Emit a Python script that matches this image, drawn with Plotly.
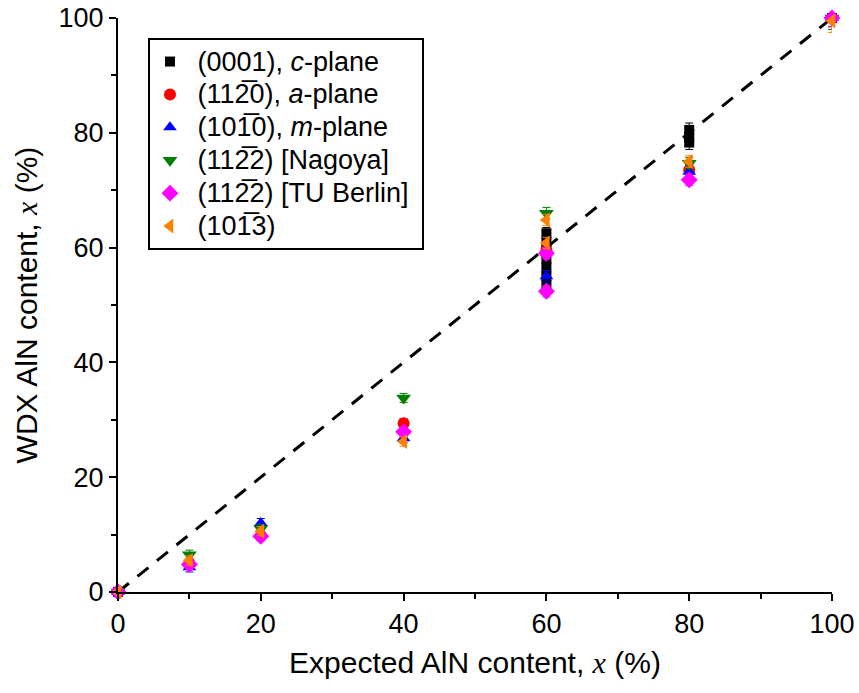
import plotly.graph_objects as go

# ---- data ----
c_x = [0, 60, 60, 60, 60, 60, 60, 60, 80, 80, 80, 100]
c_y = [0, 62.5, 61, 59.5, 58, 56.5, 55, 53.5, 80.5, 79.2, 78.3, 100]
c_e = [0.8, 1, 1, 1, 1, 1, 1, 1, 1.2, 1.2, 1.2, 1.5]

a_x = [0, 10, 20, 40, 60, 80, 100]
a_y = [0, 5.0, 9.8, 29.4, 59.5, 73.5, 100]
a_e = [0.8, 0.8, 0.8, 0.8, 1, 1, 1.5]

m_x = [0, 10, 20, 40, 60, 60, 80, 100]
m_y = [0, 4.3, 12.0, 26.8, 59.6, 55.0, 73.2, 100]
m_e = [0.8, 0.8, 0.8, 0.8, 1, 1, 1, 1.5]

n_x = [0, 10, 20, 40, 60, 80, 100]
n_y = [0, 6.5, 11.0, 33.8, 66.0, 74.7, 100]
n_e = [0.8, 0.8, 0.8, 0.8, 1, 1, 2]

t_x = [0, 10, 20, 40, 60, 60, 80, 100]
t_y = [0, 4.8, 9.7, 27.9, 59.0, 52.4, 71.8, 100]
t_e = [0.8, 0.8, 0.8, 0.8, 1, 1, 1, 1.5]

o_x = [0, 10, 20, 40, 60, 60, 80, 100]
o_y = [0, 5.5, 10.6, 26.2, 64.8, 60.8, 75.0, 99.5]
o_e = [0.8, 0.8, 0.8, 0.8, 1, 1, 1, 2]

extra_x = [0]
extra_y = [0]

line_x = [0, 100]
line_y = [0, 100]

OB = "\u0305"
names = [
    "(0001), <i>c</i>-plane",
    "(112" + OB + "0), <i>a</i>-plane",
    "(101" + OB + "0), <i>m</i>-plane",
    "(112" + OB + "2) [Nagoya]",
    "(112" + OB + "2) [TU Berlin]",
    "(101" + OB + "3)",
]

series = [
    (c_x, c_y, c_e, "black", "square", 10),
    (a_x, a_y, a_e, "#ff0000", "circle", 12),
    (m_x, m_y, m_e, "#0000ff", "triangle-up", 12),
    (n_x, n_y, n_e, "#007f00", "triangle-down", 13),
    (t_x, t_y, t_e, "#ff00ff", "diamond", 13),
    (o_x, o_y, o_e, "#ff7f00", "triangle-left", 13),
]

fig = go.Figure()

fig.add_trace(go.Scatter(
    x=line_x, y=line_y, mode="lines",
    line=dict(color="black", width=3, dash="14px,11px"),
    showlegend=False, hoverinfo="skip"))

fig.add_trace(go.Scatter(
    x=extra_x, y=extra_y, mode="markers",
    marker=dict(color="#33cccc", symbol="circle", size=13),
    showlegend=False, cliponaxis=False))

for i, ((xs, ys, es, col, sym, sz), nm) in enumerate(zip(series, names)):
    fig.add_trace(go.Scatter(
        x=xs, y=ys, mode="markers",
        name="<span style='font-size:27px'>\u00a0" + nm + "\u00a0</span>",
        legendgroup=f"g{i}",
        marker=dict(color=col, symbol=sym, size=sz, line=dict(width=0)),
        error_y=dict(type="data", array=es, color=col, thickness=1, width=4),
        cliponaxis=False))

serif_x = "<span style='font-family:\"Liberation Serif\"'><i>x</i></span>"

axis_common = dict(
    range=[0, 100], showline=True, linecolor="black", linewidth=2,
    ticks="outside", ticklen=7, tickwidth=2, tickcolor="black",
    dtick=20, tick0=0, showgrid=False, zeroline=False,
    tickfont=dict(size=27, color="black"),
    minor=dict(ticks="outside", dtick=10, ticklen=5, tickwidth=2, tickcolor="black"),
    mirror=False, automargin=False, ticklabeloverflow="allow",
)

fig.update_layout(
    width=859, height=693,
    margin=dict(l=118, r=27, t=18, b=101),
    plot_bgcolor="white", paper_bgcolor="white",
    font=dict(family="Liberation Sans, Arial, sans-serif", color="black", size=27),
    xaxis=dict(axis_common, title=dict(text="Expected AlN content, " + serif_x + " (%)",
                                       font=dict(size=30), standoff=14)),
    yaxis=dict(axis_common, title=dict(text="WDX AlN content, " + serif_x + " (%)",
                                       font=dict(size=30), standoff=12)),
    legend=dict(x=0.042, y=0.965, xanchor="left", yanchor="top",
                bordercolor="black", borderwidth=2, bgcolor="white",
                font=dict(size=23), tracegroupgap=0, itemsizing="trace"),
)

fig.write_html(
    "out.html",
    config={"displayModeBar": False},
    post_script="document.body.style.margin='0';document.body.style.overflow='hidden';",
)
